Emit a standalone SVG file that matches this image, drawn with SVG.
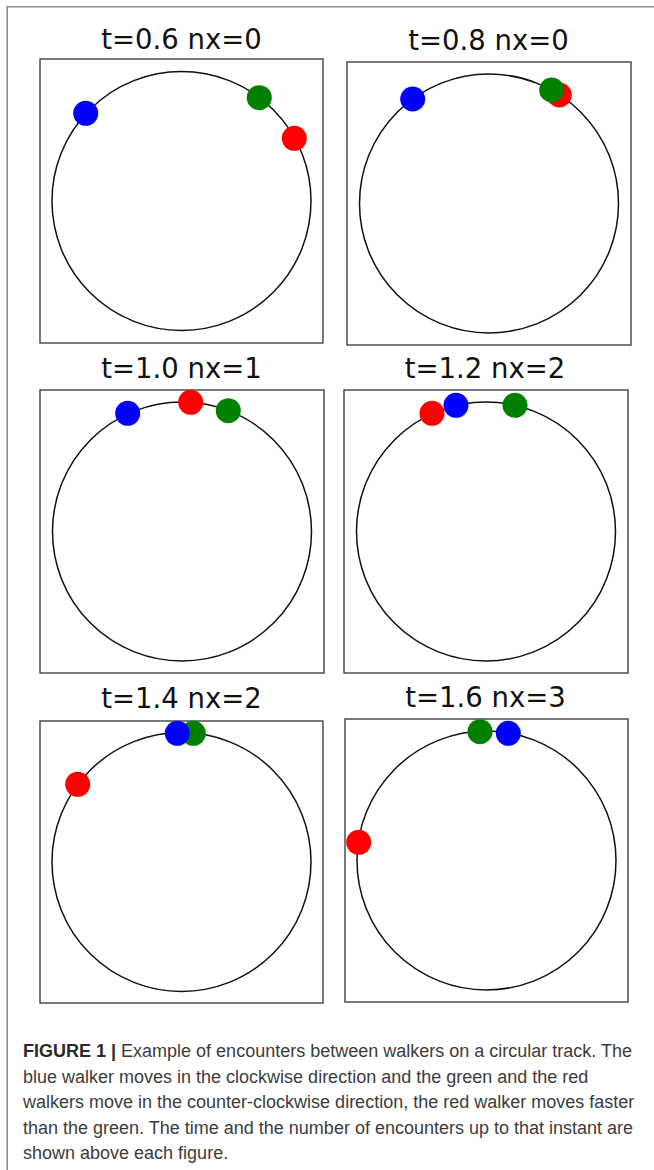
<svg xmlns="http://www.w3.org/2000/svg" width="654" height="1170" viewBox="0 0 654 1170">
  <style>
    .frame { fill: none; stroke: #8a8a8a; stroke-width: 1.6; }
    .title { font-family: "DejaVu Sans", sans-serif; font-size: 27.5px; fill: #111; text-anchor: middle; }
    .box { fill: #fff; stroke: #333; stroke-width: 1.3; }
    .track { fill: none; stroke: #111; stroke-width: 1.5; }
    .red { fill: #ff0000; }
    .green { fill: #008000; }
    .blue { fill: #0000ff; }
    .cap { font-family: "Liberation Sans", Arial, sans-serif; font-size: 18px; fill: #3c3c3c; }
    .capb { font-weight: bold; fill: #2a2a2a; }
  </style>
  <rect width="654" height="1170" fill="#fff"/>
  <path class="frame" d="M654 6.8 H7.2 V1170"/>

  <g id="panel-t06">
    <text class="title" x="181.5" y="48.5">t=0.6 nx=0</text>
    <rect class="box" x="40" y="59" width="283" height="284"/>
    <circle class="track" cx="181.5" cy="201" r="129.5"/>
    <circle class="red" cx="294.3" cy="138.3" r="12.5"/>
    <circle class="green" cx="259.3" cy="97.7" r="12.5"/>
    <circle class="blue" cx="85.7" cy="113.3" r="12.5"/>
  </g>

  <g id="panel-t08">
    <text class="title" x="488.5" y="50">t=0.8 nx=0</text>
    <rect class="box" x="347" y="62" width="284" height="283"/>
    <circle class="track" cx="489" cy="203.5" r="129.5"/>
    <circle class="red" cx="559.3" cy="95" r="12.5"/>
    <circle class="green" cx="551.7" cy="90" r="12.5"/>
    <circle class="blue" cx="412.7" cy="99" r="12.5"/>
  </g>

  <g id="panel-t10">
    <text class="title" x="181.5" y="378.3">t=1.0 nx=1</text>
    <rect class="box" x="40" y="390" width="284" height="283"/>
    <circle class="track" cx="182" cy="531.5" r="129.5"/>
    <circle class="red" cx="190.7" cy="402.3" r="12.5"/>
    <circle class="green" cx="228.3" cy="410.7" r="12.5"/>
    <circle class="blue" cx="127.7" cy="413.3" r="12.5"/>
  </g>

  <g id="panel-t12">
    <text class="title" x="485" y="378.3">t=1.2 nx=2</text>
    <rect class="box" x="344" y="390" width="284" height="283"/>
    <circle class="track" cx="486" cy="531.5" r="129.5"/>
    <circle class="red" cx="432" cy="413.3" r="12.5"/>
    <circle class="green" cx="515" cy="405.3" r="12.5"/>
    <circle class="blue" cx="456" cy="405.3" r="12.5"/>
  </g>

  <g id="panel-t14">
    <text class="title" x="181.5" y="708.3">t=1.4 nx=2</text>
    <rect class="box" x="40" y="721" width="283" height="282"/>
    <circle class="track" cx="181.5" cy="862" r="129.5"/>
    <circle class="red" cx="77.7" cy="784.3" r="12.5"/>
    <circle class="green" cx="193.3" cy="733.3" r="12.5"/>
    <circle class="blue" cx="177.3" cy="733.3" r="12.5"/>
  </g>

  <g id="panel-t16">
    <text class="title" x="485.5" y="706.7">t=1.6 nx=3</text>
    <rect class="box" x="345" y="719" width="283" height="283"/>
    <circle class="track" cx="486.5" cy="860.5" r="129.5"/>
    <circle class="red" cx="358.7" cy="842.3" r="12.5"/>
    <circle class="green" cx="480" cy="731.7" r="12.5"/>
    <circle class="blue" cx="508.3" cy="733.3" r="12.5"/>
  </g>

  <g id="caption" class="cap">
    <text x="23" y="1057"><tspan class="capb">FIGURE 1 |</tspan> Example of encounters between walkers on a circular track. The</text>
    <text x="23" y="1082.5">blue walker moves in the clockwise direction and the green and the red</text>
    <text x="23" y="1108">walkers move in the counter-clockwise direction, the red walker moves faster</text>
    <text x="23" y="1133.5">than the green. The time and the number of encounters up to that instant are</text>
    <text x="23" y="1159">shown above each figure.</text>
  </g>
</svg>
